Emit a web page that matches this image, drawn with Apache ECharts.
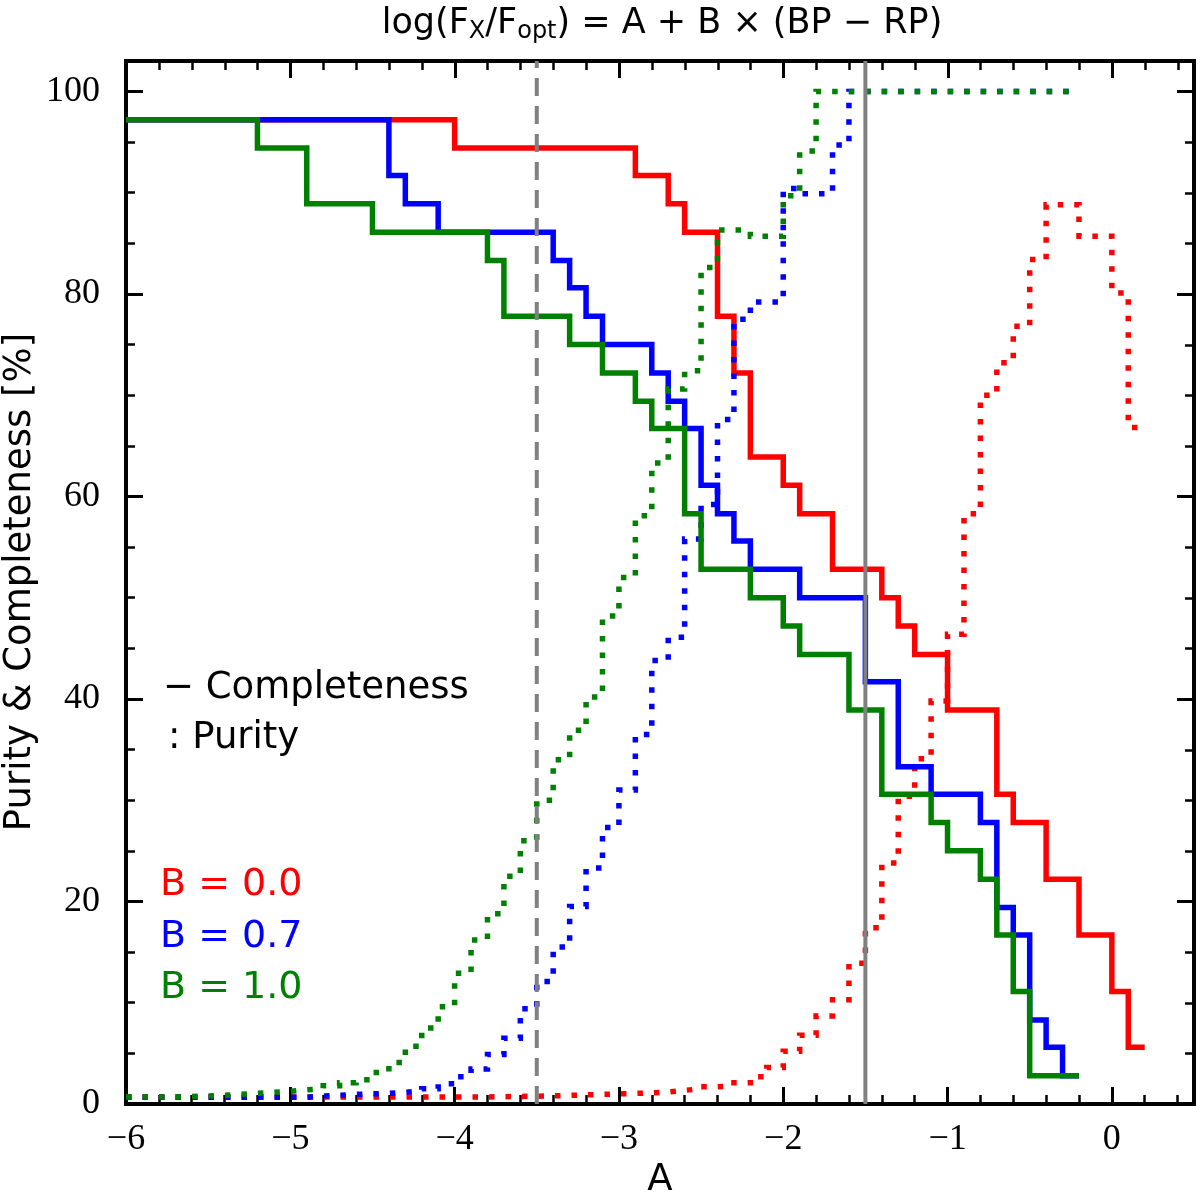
<!DOCTYPE html>
<html><head><meta charset="utf-8">
<script src="https://cdn.jsdelivr.net/npm/echarts@6/dist/echarts.min.js"></script>
<style>html,body{margin:0;padding:0;background:#fff}#c{width:1200px;height:1195px}</style>
</head><body><div id="c"></div>
<script>
// ---- Completeness (solid), step breakpoints: A where each level starts, value of that level ----
const redCompA   = [-6.0,-4.0,-2.9,-2.7,-2.6,-2.4,-2.3,-2.2,-2.0,-1.9,-1.7,-1.4,-1.3,-1.2,-1.0,-0.7,-0.6,-0.4,-0.2,0.0,0.1,0.2];
const redCompV   = [97.2,94.4,91.7,88.9,86.1,77.8,72.2,63.9,61.1,58.3,52.8,50.0,47.2,44.4,38.9,30.6,27.8,22.2,16.7,11.1,5.6,5.6];
const blueCompA  = [-6.0,-4.4,-4.3,-4.1,-3.4,-3.3,-3.2,-3.1,-2.8,-2.7,-2.6,-2.5,-2.4,-2.3,-2.2,-1.9,-1.5,-1.3,-1.1,-0.8,-0.7,-0.6,-0.5,-0.4,-0.3,-0.2];
const blueCompV  = [97.2,91.7,88.9,86.1,83.3,80.6,77.8,75.0,72.2,69.4,66.7,61.1,58.3,55.6,52.8,50.0,41.7,33.3,30.6,27.8,19.4,16.7,8.3,5.6,2.8,2.8];
const greenCompA = [-6.0,-5.2,-4.9,-4.5,-3.8,-3.7,-3.3,-3.1,-2.9,-2.8,-2.6,-2.5,-2.2,-2.0,-1.9,-1.6,-1.4,-1.1,-1.0,-0.8,-0.7,-0.6,-0.5,-0.2];
const greenCompV = [97.2,94.4,88.9,86.1,83.3,77.8,75.0,72.2,69.4,66.7,58.3,52.8,50.0,47.2,44.4,38.9,30.6,27.8,25.0,22.2,16.7,11.1,2.8,2.8];

// ---- Purity (dotted) ----
const redPurA   = [-6.0,-3.8,-3.6,-3.4,-3.3,-3.2,-3.1,-3.0,-2.9,-2.8,-2.7,-2.6,-2.5,-2.4,-2.3,-2.2,-2.1,-2.0,-1.9,-1.8,-1.7,-1.6,-1.5,-1.4,-1.3,-1.2,-1.1,-1.0,-0.9,-0.8,-0.7,-0.6,-0.5,-0.4,-0.2,0.0,0.1,0.2];
const redPurV   = [0.7,0.75,0.8,0.85,0.9,0.95,1.0,1.05,1.1,1.2,1.35,1.5,1.7,1.8,2.1,2.7,3.6,5.2,6.8,8.7,10.3,13.9,17.4,23.8,30.4,34.1,39.8,46.4,58.3,70.0,73.2,76.8,83.4,88.8,85.7,80.1,66.8,66.8];
const bluePurA  = [-6.0,-4.9,-4.8,-4.7,-4.6,-4.5,-4.4,-4.3,-4.2,-4.1,-4.0,-3.9,-3.8,-3.7,-3.6,-3.5,-3.4,-3.3,-3.2,-3.1,-3.0,-2.9,-2.8,-2.7,-2.6,-2.5,-2.4,-2.3,-2.2,-2.0,-1.9,-1.7,-1.6,-0.2];
const bluePurV  = [0.66,0.8,0.85,0.95,1.0,1.05,1.15,1.3,1.5,2.0,2.7,3.45,4.9,6.5,9.4,12.1,15.5,19.5,23.3,27.3,31.0,36.5,43.8,46.1,55.8,59.2,67.6,77.5,79.2,90.4,89.9,94.7,100,100];
const greenPurA = [-6.0,-5.7,-5.6,-5.5,-5.4,-5.3,-5.2,-5.1,-5.0,-4.9,-4.8,-4.7,-4.6,-4.5,-4.4,-4.3,-4.2,-4.1,-4.0,-3.9,-3.8,-3.7,-3.6,-3.5,-3.4,-3.3,-3.2,-3.1,-3.0,-2.9,-2.8,-2.7,-2.6,-2.5,-2.4,-2.2,-2.0,-1.9,-1.8,-0.2];
const greenPurV = [0.7,0.75,0.8,0.85,0.95,1.05,1.15,1.25,1.4,1.5,1.8,2.1,2.4,3.1,4.1,5.7,7.5,9.6,12.9,16.2,18.8,22.5,26.0,30.0,34.0,36.9,40.2,48.2,52.0,58.1,63.3,70.6,72.4,82.6,86.3,85.7,89.7,94.1,100,100];

// ---- reference lines, axis ranges and texts ----
const refDashedA = -3.5;
const refSolidA = -1.5;
const bLabels = ['B = 0.0', 'B = 0.7', 'B = 1.0'];
const xName = 'A';
const yName = 'Purity & Completeness [%]';
const xRange = [-6, 0.5];
const yRange = [0, 103];
const xMajorStep = 1, xMinorStep = 0.2, yMajorStep = 20, yMinorStep = 5;

const RED = '#ff0000', BLUE = '#0000ff', GREEN = '#008000', GREY = '#808080';
const SERIF = 'Liberation Serif', SANS = 'DejaVu Sans';
const pairs = (a, v) => a.map((x, i) => [x, v[i]]);
const fmt = v => (v < 0 ? '\u2212' + (-v) : String(v));
const blank = () => '';
const MAJ_LEN = 17, MIN_LEN = 9, MAJ_W = 3, MIN_W = 2.5;
const G = { left: 126, right: 6, top: 61, bottom: 91 };
const W = 1200, H = 1195;

function xAxisDef(interval, len, w, labels) {
  return {
    type: 'value', position: 'bottom', min: xRange[0], max: xRange[1], interval: interval,
    axisLine: { show: true, onZero: false, lineStyle: { color: 'rgba(0,0,0,0)', width: 1 } },
    splitLine: { show: false },
    axisTick: { show: true, inside: true, length: len, lineStyle: { color: '#000', width: w } },
    axisLabel: { show: true, showMaxLabel: !labels, margin: 18, formatter: labels ? fmt : blank,
      fontFamily: SERIF, fontSize: 36, color: '#000' }
  };
}
function yAxisDef(interval, len, w, labels) {
  return {
    type: 'value', position: 'left', min: yRange[0], max: yRange[1], interval: interval,
    axisLine: { show: true, onZero: false, lineStyle: { color: 'rgba(0,0,0,0)', width: 1 } },
    splitLine: { show: false },
    axisTick: { show: true, inside: true, length: len, lineStyle: { color: '#000', width: w } },
    axisLabel: { show: true, showMaxLabel: !labels, margin: 26, formatter: labels ? fmt : blank,
      fontFamily: SERIF, fontSize: 36, color: '#000' }
  };
}

function stepSeries(name, data, color, dotted, z) {
  return {
    name: name, type: 'line', step: 'end', data: data, symbol: 'none', z: z,
    xAxisIndex: 0, yAxisIndex: 0, animation: false, silent: true,
    lineStyle: { color: color, width: 5.5, type: dotted ? [5.5, 11] : 'solid', cap: 'butt', join: 'miter' }
  };
}
function refSeries(name, a, dashed) {
  return {
    name: name, type: 'line', data: [[a, yRange[0]], [a, yRange[1]]], symbol: 'none', z: 9,
    xAxisIndex: 0, yAxisIndex: 0, animation: false, silent: true,
    lineStyle: { color: GREY, width: 4, type: dashed ? [18, 10] : 'solid', cap: 'butt' }
  };
}

// Mirror ticks for the top and right frame edges (same linear mapping as the grid's axes).
function tickValues(lo, hi, step) {
  const out = [];
  const n = Math.floor((hi - lo) / step + 1e-9);
  for (let k = 0; k <= n; k++) out.push(+(lo + k * step).toFixed(6));
  return out;
}
const xToPx = v => G.left + (v - xRange[0]) / (xRange[1] - xRange[0]) * (W - G.left - G.right);
const yToPx = v => (H - G.bottom) - (v - yRange[0]) / (yRange[1] - yRange[0]) * (H - G.top - G.bottom);
const topY = yToPx(yRange[1]);
const rightX = xToPx(xRange[1]);
const mirrorTicks = [];
[[xMajorStep, MAJ_LEN, MAJ_W], [xMinorStep, MIN_LEN, MIN_W]].forEach(function (t) {
  tickValues(xRange[0], xRange[1], t[0]).forEach(function (v) {
    const p = Math.round(xToPx(v)) + 0.5;
    mirrorTicks.push({ type: 'line', silent: true, z: 15,
      shape: { x1: p, y1: topY, x2: p, y2: topY + t[1] }, style: { stroke: '#000', lineWidth: t[2] } });
  });
});
[[yMajorStep, MAJ_LEN, MAJ_W], [yMinorStep, MIN_LEN, MIN_W]].forEach(function (t) {
  tickValues(yRange[0], yRange[1], t[0]).forEach(function (v) {
    const p = Math.round(yToPx(v)) + 0.5;
    mirrorTicks.push({ type: 'line', silent: true, z: 15,
      shape: { x1: rightX, y1: p, x2: rightX - t[1], y2: p }, style: { stroke: '#000', lineWidth: t[2] } });
  });
});

const textGraphics = [
  { type: 'text', x: 662, y: 24, z: 20, style: {
      text: '{n|log(F}{s|X}{n|/F}{s|opt}{n|) = A + B \u00d7 (BP \u2212 RP)}',
      align: 'center', verticalAlign: 'middle',
      rich: {
        n: { fontFamily: SANS, fontSize: 35, lineHeight: 40, fill: '#000' },
        s: { fontFamily: SANS, fontSize: 24, lineHeight: 16, verticalAlign: 'bottom', fill: '#000' }
      } } },
  { type: 'text', x: 660, y: 1180, z: 20, style: { text: xName, font: '37px "DejaVu Sans"', fill: '#000', align: 'center', verticalAlign: 'middle' } },
  { type: 'text', x: 20, y: 582, z: 20, rotation: Math.PI / 2, style: { text: yName, font: '37px "DejaVu Sans"', fill: '#000', align: 'center', verticalAlign: 'middle' } },
  { type: 'text', x: 163, y: 688, z: 20, style: { text: '\u2212 Completeness', font: '37px "DejaVu Sans"', fill: '#000', align: 'left', verticalAlign: 'middle' } },
  { type: 'text', x: 168, y: 738, z: 20, style: { text: ': Purity', font: '37px "DejaVu Sans"', fill: '#000', align: 'left', verticalAlign: 'middle' } },
  { type: 'text', x: 160, y: 885, z: 20, style: { text: bLabels[0], font: '38px "DejaVu Sans"', fill: RED, align: 'left', verticalAlign: 'middle' } },
  { type: 'text', x: 160, y: 937, z: 20, style: { text: bLabels[1], font: '38px "DejaVu Sans"', fill: BLUE, align: 'left', verticalAlign: 'middle' } },
  { type: 'text', x: 160, y: 988, z: 20, style: { text: bLabels[2], font: '38px "DejaVu Sans"', fill: GREEN, align: 'left', verticalAlign: 'middle' } }
];

const chart = echarts.init(document.getElementById('c'), null, { renderer: 'canvas' });
chart.setOption({
  animation: false,
  backgroundColor: '#fff',
  grid: { left: G.left, right: G.right, top: G.top, bottom: G.bottom, containLabel: false, outerBoundsMode: 'none',
          show: true, borderColor: '#000', borderWidth: 4, backgroundColor: 'transparent' },
  xAxis: [ xAxisDef(xMajorStep, MAJ_LEN, MAJ_W, true), xAxisDef(xMinorStep, MIN_LEN, MIN_W, false) ],
  yAxis: [ yAxisDef(yMajorStep, MAJ_LEN, MAJ_W, true), yAxisDef(yMinorStep, MIN_LEN, MIN_W, false) ],
  series: [
    stepSeries('red completeness', pairs(redCompA, redCompV), RED, false, 2),
    stepSeries('red purity', pairs(redPurA, redPurV), RED, true, 3),
    stepSeries('blue completeness', pairs(blueCompA, blueCompV), BLUE, false, 4),
    stepSeries('blue purity', pairs(bluePurA, bluePurV), BLUE, true, 5),
    stepSeries('green completeness', pairs(greenCompA, greenCompV), GREEN, false, 6),
    stepSeries('green purity', pairs(greenPurA, greenPurV), GREEN, true, 7),
    refSeries('dashed reference', refDashedA, true),
    refSeries('solid reference', refSolidA, false)
  ],
  graphic: textGraphics.concat(mirrorTicks)
});
</script>
</body></html>
